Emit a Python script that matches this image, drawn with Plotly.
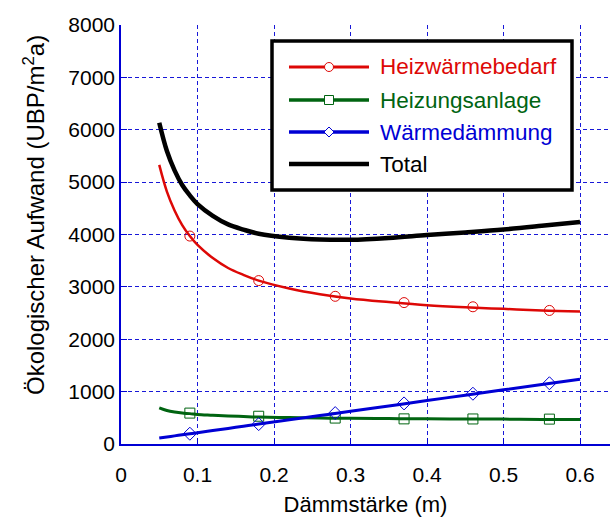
import plotly.graph_objects as go

# Dämmstärke (m) – curve sampling points
thickness = [0.05, 0.06, 0.07, 0.08, 0.09, 0.10, 0.12, 0.14, 0.16, 0.18,
             0.22, 0.26, 0.30, 0.35, 0.40, 0.45, 0.50, 0.55, 0.60]

# Ökologischer Aufwand (UBP/m²a) per component
heizwaermebedarf = [5330, 4820, 4460, 4180, 3970, 3800, 3550, 3360, 3230, 3120,
                    2970, 2860, 2780, 2710, 2650, 2610, 2580, 2550, 2530]
heizungsanlage = [690, 640, 610, 590, 580, 565, 550, 535, 525, 515,
                  505, 495, 490, 485, 480, 478, 475, 470, 470]
waermedaemmung = [114, 134, 155, 175, 196, 216, 257, 298, 339, 380,
                  461, 543, 625, 727, 829, 932, 1034, 1136, 1238]
total = [6134, 5594, 5225, 4945, 4746, 4581, 4357, 4193, 4094, 4015,
         3940, 3905, 3900, 3935, 3990, 4040, 4095, 4165, 4240]

# Symbol positions along each curve
marker_x = [0.09, 0.18, 0.28, 0.37, 0.46, 0.56]
heizwaermebedarf_pts = [3970, 3120, 2820, 2700, 2620, 2550]
heizungsanlage_pts = [590, 530, 495, 480, 478, 475]
waermedaemmung_pts = [196, 380, 590, 775, 960, 1160]

x_ticks = [0, 0.1, 0.2, 0.3, 0.4, 0.5, 0.6]
y_ticks = [0, 1000, 2000, 3000, 4000, 5000, 6000, 7000, 8000]

RED = "#dd0806"
GREEN = "#006411"
BLUE = "#0000d4"
BLACK = "#000000"
GRID = "#1818d8"
FONT = "Liberation Sans, Arial, sans-serif"

series = [
    ("Heizwärmebedarf", heizwaermebedarf, heizwaermebedarf_pts, RED, 2.5, "circle-open"),
    ("Heizungsanlage", heizungsanlage, heizungsanlage_pts, GREEN, 3, "square-open"),
    ("Wärmedämmung", waermedaemmung, waermedaemmung_pts, BLUE, 3, "diamond-open"),
]

fig = go.Figure()
for name, ys, pts, color, lw, sym in series:
    fig.add_trace(go.Scatter(
        x=thickness, y=ys, mode="lines", name=name, showlegend=False,
        line=dict(color=color, width=lw, shape="spline", smoothing=1.0),
    ))
    fig.add_trace(go.Scatter(
        x=marker_x, y=pts, mode="markers", showlegend=False,
        marker=dict(symbol=sym, size=10, color=color, line=dict(width=1, color=color)),
    ))
fig.add_trace(go.Scatter(
    x=thickness, y=total, mode="lines", name="Total", showlegend=False,
    line=dict(color=BLACK, width=4.5, shape="spline", smoothing=1.0),
))

# Legend box drawn in paper coordinates
W, H = 489.0, 419.0
def px(x):
    return (x - 121) / W
def py(y):
    return (444 - y) / H

shapes = [dict(type="rect", xref="paper", yref="paper",
               x0=px(272), x1=px(572), y0=py(190), y1=py(41),
               line=dict(color=BLACK, width=3.5), fillcolor="white", layer="above")]
annotations = []
legend_rows = [
    ("Heizwärmebedarf", RED, 3, 67, "circle"),
    ("Heizungsanlage", GREEN, 3.5, 100, "square"),
    ("Wärmedämmung", BLUE, 3.5, 132, "diamond"),
    ("Total", BLACK, 4.5, 164, None),
]
for label, color, lw, row_y, sym in legend_rows:
    shapes.append(dict(type="line", xref="paper", yref="paper",
                       x0=px(289), x1=px(369), y0=py(row_y), y1=py(row_y),
                       line=dict(color=color, width=lw), layer="above"))
    common = dict(xref="paper", yref="paper", xsizemode="pixel", ysizemode="pixel",
                  xanchor=px(329), yanchor=py(row_y), layer="above",
                  line=dict(color=color, width=1), fillcolor="white")
    if sym == "circle":
        shapes.append(dict(type="circle", x0=-4.5, x1=4.5, y0=-4.5, y1=4.5, **common))
    elif sym == "square":
        shapes.append(dict(type="rect", x0=-4.5, x1=4.5, y0=-4.5, y1=4.5, **common))
    elif sym == "diamond":
        shapes.append(dict(type="path", path="M0,-5 L5,0 L0,5 L-5,0 Z", **common))
    annotations.append(dict(xref="paper", yref="paper", x=px(378), y=py(row_y),
                            xanchor="left", yanchor="middle", showarrow=False,
                            text=label, font=dict(family=FONT, size=22.5, color=color)))

# Vertical axis title, placed as a rotated annotation
annotations.append(dict(xref="paper", yref="paper", x=px(34), y=py(215),
                        xanchor="center", yanchor="middle", showarrow=False,
                        textangle=-90,
                        text="Ökologischer Aufwand (UBP/m<sup>2</sup>a)",
                        font=dict(family=FONT, size=24, color=BLACK)))

axis_common = dict(
    showgrid=True, gridcolor=GRID, gridwidth=1, griddash="4px,3px",
    showline=True, linecolor=BLUE, linewidth=1.5,
    ticks="inside", ticklen=6, tickcolor=BLUE, tickwidth=1,
    zeroline=False, tickfont=dict(family=FONT, size=21, color=BLACK),
)

fig.update_layout(
    width=610, height=518,
    margin=dict(l=121, r=0, t=25, b=74),
    paper_bgcolor="white", plot_bgcolor="white",
    showlegend=False,
    shapes=shapes, annotations=annotations,
    xaxis=dict(range=[0, 0.6392], tickvals=x_ticks,
               ticktext=["0", "0.1", "0.2", "0.3", "0.4", "0.5", "0.6"],
               ticklabelstandoff=11,
               title=dict(text="Dämmstärke (m)", font=dict(family=FONT, size=22, color=BLACK),
                          standoff=12),
               **axis_common),
    yaxis=dict(range=[0, 8000], tickvals=y_ticks, **axis_common),
)

fig.write_html("out.html")
